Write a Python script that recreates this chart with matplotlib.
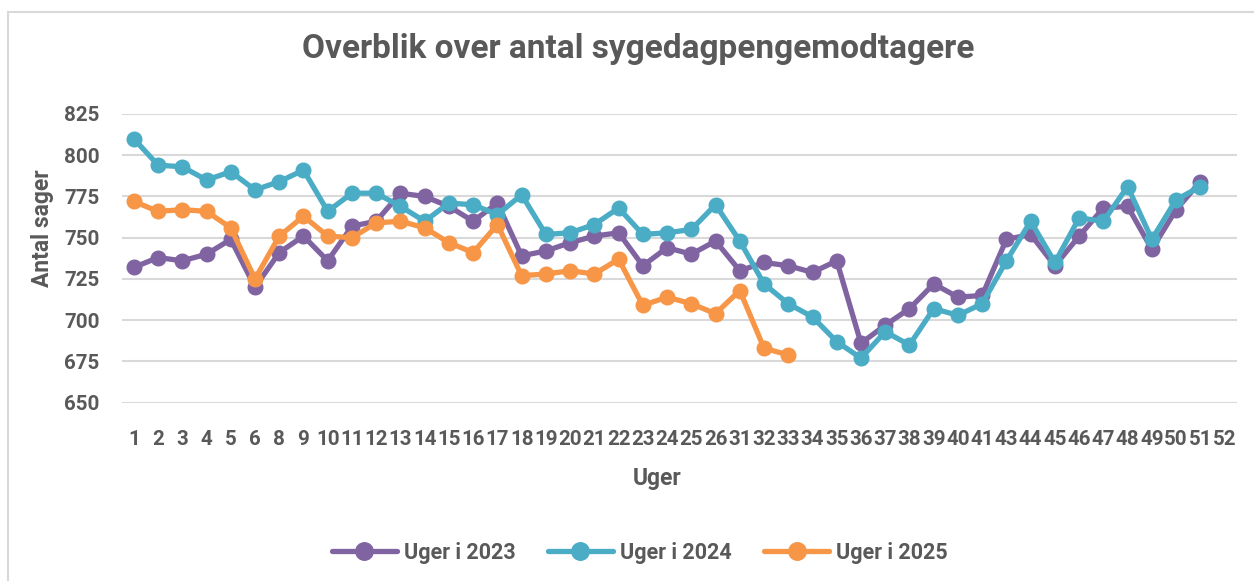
import numpy as np
import matplotlib
matplotlib.use("Agg")
import matplotlib.pyplot as plt
from matplotlib.patches import Rectangle

weeks = ["1","2","3","4","5","6","8","9","10","11","12","13","14","15","16","17","18","19","20","21","22","23","24","25","26",
         "31","32","33","34","35","36","37","38","39","40","41","43","44","45","46","47","48","49","50","51","52"]

uger_2023 = [732,738,736,740,749,720,741,751,736,757,760,777,775,769,760,771,739,742,747,751,
             753,733,744,740,748,730,735,733,729,736,686,697,707,722,714,715,749,752,733,751,
             768,769,743,767,784]
uger_2024 = [810,794,793,785,790,779,784,791,766,777,777,769,760,771,770,764,776,752,753,758,
             768,752,753,755,770,748,722,710,702,687,677,693,685,707,703,710,736,760,735,762,
             760,781,749,773,781]
uger_2025 = [772,766,767,766,756,725,751,763,751,750,759,760,756,747,741,758,727,728,730,728,
             737,709,714,710,704,718,683,679]

series = [("Uger i 2023", uger_2023, "#8064A2"),
          ("Uger i 2024", uger_2024, "#4BACC6"),
          ("Uger i 2025", uger_2025, "#F79646")]

plt.rcParams['font.family'] = ['Roboto', 'DejaVu Sans']
txt = "#595959"
W, H = 1254, 581

fig = plt.figure(figsize=(W / 100, H / 100), dpi=100)
fig.patches.append(Rectangle((8 / W, -0.01), 1.0, 1 - 12 / H + 0.01, transform=fig.transFigure,
                             fill=False, edgecolor="#D9D9D9", linewidth=1.5))
ax = fig.add_axes([121.7 / W, 1 - 402.7 / H, (1236.7 - 121.7) / W, (402.7 - 114) / H])

x_all = np.arange(len(weeks))
for name, vals, col in series:
    y = np.full(len(weeks), np.nan)
    y[:len(vals)] = vals
    ax.plot(x_all, y, color=col, linewidth=3.8, marker="o", markersize=10.5, label=name,
            solid_capstyle="round", zorder=3)

ax.set_xlim(-0.5, len(weeks) - 0.5)
ax.set_ylim(650, 825)
ax.set_yticks(np.arange(650, 826, 25))
ax.set_xticks(x_all)
ax.set_xticklabels(weeks)
ax.grid(axis="y", color="#D9D9D9", linewidth=1.5, zorder=0)
ax.set_axisbelow(True)
for s in ax.spines.values():
    s.set_visible(False)
ax.tick_params(axis="both", length=0, labelsize=14.8, labelcolor=txt)
for lab in ax.get_xticklabels() + ax.get_yticklabels():
    lab.set_fontweight("bold")
ax.tick_params(axis="x", pad=20)
ax.tick_params(axis="y", pad=16)

fig.text(43 / W, 1 - 228 / H, "Antal sager", rotation=90, ha="center", va="center",
         fontsize=16.5, fontweight="bold", color=txt)
fig.text(657 / W, 1 - 479 / H, "Uger", ha="center", va="center",
         fontsize=16.5, fontweight="bold", color=txt)

fig.text(638 / W, 1 - 49 / H, "Overblik over antal sygedagpengemodtagere", ha="center", va="center",
         fontsize=24, fontweight="bold", color=txt)

leg = fig.legend(loc="center", bbox_to_anchor=(640 / W, 1 - 553 / H), ncol=3, frameon=False,
                 handlelength=3.0, columnspacing=1.5, handletextpad=0.35, markerscale=1.2,
                 prop={"weight": "bold", "size": 15.5})
for t in leg.get_texts():
    t.set_color(txt)

fig.savefig("out.png", dpi=100)
